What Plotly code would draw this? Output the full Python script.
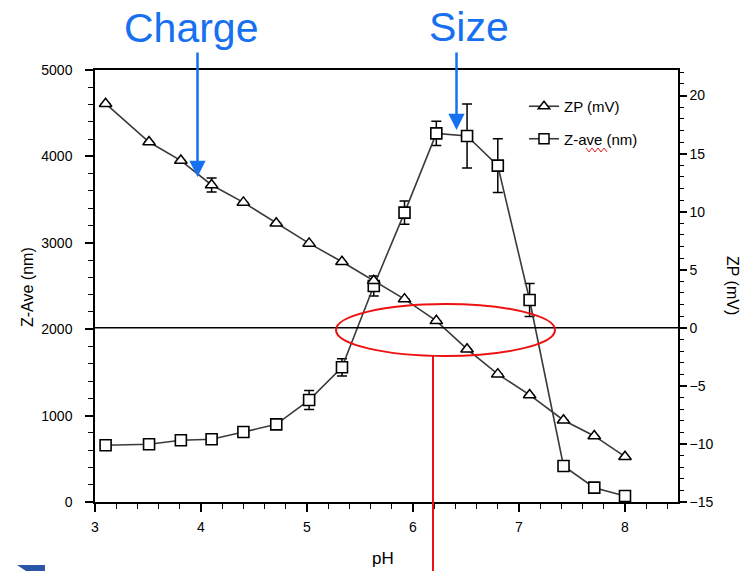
import plotly.graph_objects as go

# ---------------- data ----------------
ph = [3.10, 3.51, 3.81, 4.10, 4.40, 4.71, 5.02, 5.33, 5.63, 5.92, 6.22, 6.51, 6.80, 7.10, 7.42, 7.71, 8.00]
zp_mv = [19.3, 16.0, 14.4, 12.3, 10.8, 9.0, 7.27, 5.69, 4.05, 2.47, 0.6, -1.84, -3.99, -5.78, -7.96, -9.31, -11.1]
zp_err = [0, 0, 0, 0.6, 0, 0, 0, 0, 0, 0, 0, 0, 0, 0, 0, 0, 0]
zave_nm = [656, 668, 714, 726, 810, 899, 1180, 1559, 2500, 3349, 4267, 4236, 3893, 2338, 417, 166, 69]
zave_err = [0, 0, 0, 0, 0, 0, 110, 100, 115, 135, 140, 370, 310, 190, 0, 0, 0]

x_ticks = [3, 4, 5, 6, 7, 8]
left_ticks = [0, 1000, 2000, 3000, 4000, 5000]
right_ticks = [-15, -10, -5, 0, 5, 10, 15, 20]

# ---------------- layout helpers (pixel -> paper) ----------------
L, R, T, B = 95, 678, 70, 502
W, H = 747, 571


def px(x):
    return (x - L) / (R - L)


def py(y):
    return 1 - (y - T) / (B - T)


FONT = "Liberation Sans, Arial, sans-serif"
LINE_C = "#3a3a3a"
BLUE = "#1670f0"

fig = go.Figure()

fig.add_trace(go.Scatter(
    x=ph, y=zave_nm, mode="lines+markers", yaxis="y", showlegend=False,
    line=dict(color=LINE_C, width=1.6),
    marker=dict(symbol="square", size=11, color="white", line=dict(color="black", width=1.6)),
    error_y=dict(type="data", array=zave_err, visible=True, color="black", thickness=1.5, width=5),
))
fig.add_trace(go.Scatter(
    x=ph, y=zp_mv, mode="lines+markers", yaxis="y2", showlegend=False,
    line=dict(color=LINE_C, width=1.6),
    marker=dict(symbol="triangle-up", size=11, color="white", line=dict(color="black", width=1.5)),
    error_y=dict(type="data", array=zp_err, visible=True, color="black", thickness=1.5, width=5),
))

# legend-only entries
fig.add_trace(go.Scatter(
    x=[None], y=[None], mode="lines+markers", name="ZP (mV)", legendgroup="a",
    line=dict(color=LINE_C, width=1.6),
    marker=dict(symbol="triangle-up", size=10, color="white", line=dict(color="black", width=1.5)),
))
fig.add_trace(go.Scatter(
    x=[None], y=[None], mode="lines+markers", name="Z-ave (nm)", legendgroup="b",
    line=dict(color=LINE_C, width=1.6),
    marker=dict(symbol="square", size=10, color="white", line=dict(color="black", width=1.5)),
))

axis_common = dict(
    showgrid=False, zeroline=False, showline=True, linecolor="black", linewidth=1.5,
    ticks="outside", tickcolor="black", tickwidth=1.5,
    tickfont=dict(family=FONT, size=14, color="black"),
)

fig.update_layout(
    width=W, height=H,
    margin=dict(l=L, r=W - R, t=T, b=H - B),
    paper_bgcolor="white", plot_bgcolor="white",
    font=dict(family=FONT, color="black"),
    xaxis=dict(
        range=[3, 8.5], tickvals=x_ticks, ticklen=8, mirror=True,
        minor=dict(dtick=0.2, tick0=3, ticklen=5, ticks="outside", tickcolor="black", tickwidth=1.3),
        ticklabelstandoff=3,
        **axis_common,
    ),
    yaxis=dict(
        range=[0, 5000], tickvals=left_ticks, ticklen=8, ticklabelstandoff=10,
        minor=dict(dtick=200, ticklen=5, ticks="outside", tickcolor="black", tickwidth=1.3),
        **axis_common,
    ),
    yaxis2=dict(
        range=[-15, 22.2], tickvals=right_ticks, ticklen=7, overlaying="y", side="right",
        minor=dict(dtick=1, ticklen=4, ticks="outside", tickcolor="black", tickwidth=1.3),
        **axis_common,
    ),
    showlegend=True,
    legend=dict(
        x=px(524), y=py(90), xanchor="left", yanchor="top",
        bgcolor="rgba(0,0,0,0)", font=dict(family=FONT, size=15, color="black"),
        tracegroupgap=10, itemwidth=30,
    ),
)

# horizontal zero line (on the ZP axis)
fig.add_shape(type="line", xref="paper", yref="y2", x0=0, x1=1, y0=0, y1=0,
              line=dict(color="black", width=1.5))

# red ellipse and red vertical line
fig.add_shape(type="circle", xref="paper", yref="paper",
              x0=px(336), x1=px(555), y0=py(356), y1=py(304),
              line=dict(color="#ee1111", width=2))
fig.add_shape(type="line", xref="paper", yref="paper",
              x0=px(433), x1=px(433), y0=py(356), y1=py(575),
              line=dict(color="#ee1111", width=2))

# red spell-check squiggle under "ave"
sq_x = [586, 589, 592, 595, 598, 601, 604, 607]
sq_y = [148, 152, 148, 152, 148, 152, 148, 152]
path = "M " + " L ".join(f"{px(a):.5f},{py(b):.5f}" for a, b in zip(sq_x, sq_y))
fig.add_shape(type="path", xref="paper", yref="paper", path=path,
              line=dict(color="#e02020", width=1))

# blue artefact bottom-left
art = [(17, 565), (45, 565), (45, 571), (26, 571)]
path2 = "M " + " L ".join(f"{px(a):.5f},{py(b):.5f}" for a, b in art) + " Z"
fig.add_shape(type="path", xref="paper", yref="paper", path=path2,
              fillcolor="#2b56a8", line=dict(width=0))

ann = dict(xref="paper", yref="paper", xanchor="center", yanchor="middle", showarrow=False)

# axis titles
fig.add_annotation(text="Z-Ave (nm)", x=px(27), y=py(287), textangle=-90,
                   font=dict(family=FONT, size=16, color="black"), **ann)
fig.add_annotation(text="ZP (mV)", x=px(733), y=py(285), textangle=90,
                   font=dict(family=FONT, size=16, color="black"), **ann)
fig.add_annotation(text="pH", x=px(383), y=py(558),
                   font=dict(family=FONT, size=17, color="black"), **ann)

# Charge / Size callouts
fig.add_annotation(text="Charge", x=px(191), y=py(28),
                   font=dict(family=FONT, size=41, color=BLUE), **ann)
fig.add_annotation(text="Size", x=px(469), y=py(27),
                   font=dict(family=FONT, size=41, color=BLUE), **ann)
fig.add_annotation(text="", xref="paper", yref="paper", x=px(197.5), y=py(177),
                   ax=0, ay=-126, showarrow=True, arrowhead=2, arrowsize=1.3, arrowwidth=2.5,
                   arrowcolor=BLUE)
fig.add_annotation(text="", xref="paper", yref="paper", x=px(456.5), y=py(130),
                   ax=0, ay=-79, showarrow=True, arrowhead=2, arrowsize=1.3, arrowwidth=2.5,
                   arrowcolor=BLUE)

fig.write_html("out.html")
